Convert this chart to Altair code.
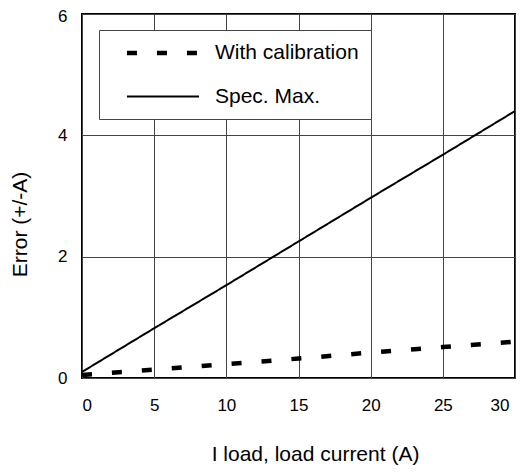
import altair as alt
import pandas as pd

x_vals = [0, 5, 10, 15, 20, 25, 30]
spec_max = [0.1, 0.82, 1.53, 2.25, 2.97, 3.68, 4.4]
with_cal = [0.05, 0.14, 0.23, 0.32, 0.42, 0.51, 0.6]
series_names = ["With calibration", "Spec. Max."]

rows = []
for xv, v in zip(x_vals, with_cal):
    rows.append({"x": xv, "y": v, "series": series_names[0]})
for xv, v in zip(x_vals, spec_max):
    rows.append({"x": xv, "y": v, "series": series_names[1]})
df = pd.DataFrame(rows)

FONT = "Liberation Sans"

legend = alt.Legend(
    title=None, orient="none", legendX=17, legendY=16,
    strokeColor="#444", fillColor="white", padding=12,
    symbolType="M-4.24,0L4.24,0", symbolSize=289, symbolStrokeColor="black",
    symbolOffset=41, symbolFillColor="transparent",
    labelFont=FONT, labelFontSize=21, labelColor="black", labelOffset=41,
    rowPadding=22, labelLimit=400,
)

chart = alt.Chart(df).mark_line(strokeCap="butt", color="black").encode(
    x=alt.X("x:Q", scale=alt.Scale(domain=[0, 30], nice=False),
            axis=alt.Axis(values=[0, 5, 10, 15, 20, 25, 30], title="I load, load current (A)",
                          ticks=False, domain=False, grid=True, gridColor="#444", gridWidth=1,
                          labelFont=FONT, labelFontSize=17, labelColor="black", labelPadding=19,
                          labelOffset={"condition": {"test": "datum.value == 30", "value": -6},
                                       "value": 0},
                          titleFont=FONT, titleFontSize=21, titleFontWeight="normal",
                          titleColor="black", titleX=233, titleY=82,
                          titleBaseline="alphabetic", titleAlign="center")),
    y=alt.Y("y:Q", scale=alt.Scale(domain=[0, 6], nice=False),
            axis=alt.Axis(values=[0, 2, 4, 6], title="Error (+/-A)",
                          ticks=False, domain=False, grid=True, gridColor="#444", gridWidth=1,
                          labelFont=FONT, labelFontSize=17, labelColor="black", labelPadding=15,
                          labelOffset={"condition": {"test": "datum.value == 6", "value": 2},
                                       "value": 0},
                          titleFont=FONT, titleFontSize=21, titleFontWeight="normal",
                          titleColor="black", titleX=-56, titleY=210,
                          titleAngle=270, titleBaseline="alphabetic", titleAlign="center")),
    strokeDash=alt.StrokeDash("series:N", sort=series_names,
                              scale=alt.Scale(domain=series_names, range=[[10, 20], [1, 0]]),
                              legend=legend),
    strokeWidth=alt.StrokeWidth("series:N", sort=series_names,
                                scale=alt.Scale(domain=series_names, range=[4.5, 2]),
                                legend=legend),
).properties(
    width=433, height=364,
    padding={"left": 74, "top": 6, "right": 4, "bottom": 92},
    autosize=alt.AutoSizeParams(type="none"),
    background="white",
).configure_view(stroke="black", strokeWidth=2)

chart.save("out.html", embed_options={"renderer": "svg", "actions": False})
